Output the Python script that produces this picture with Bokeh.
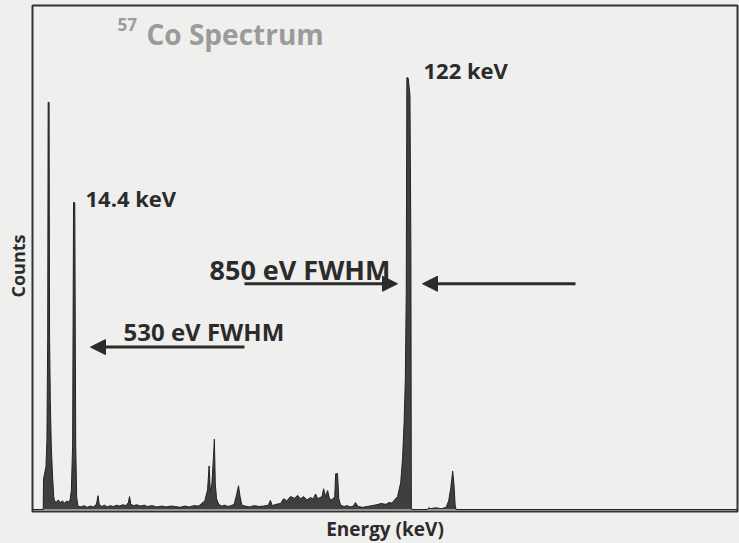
from bokeh.plotting import figure
from bokeh.models import Label, Arrow, NormalHead, Range1d, Title
from bokeh.embed import file_html
from bokeh.resources import INLINE

# ---- data (energy in keV, counts in arbitrary units, 122 keV peak = 1000) ----
energy_kev = [0.84, 4.3, 4.4, 4.8, 5.2, 5.5, 5.75, 5.9, 6.2, 6.35, 6.6, 6.9, 7.3, 7.7, 8.0,
              8.6, 9.2, 9.9, 10.5, 11.2, 11.8, 12.5, 13.0, 13.4, 13.8, 14.1, 14.5, 14.8, 15.1, 15.5,
              16.5, 17.5, 18.5, 19.5, 20.5, 21.5, 22.0, 22.4, 23.2, 24.1, 25.0, 26.0, 27.0, 28.0,
              29.0, 30.0, 31.0, 31.8, 32.2, 32.6, 33.5, 34.5, 35.7, 37.0, 38.0, 39.5, 41.0, 42.5,
              44.0, 45.5, 47.0, 48.5, 50.0, 51.5, 53.0, 54.5, 55.5, 56.5, 57.4, 57.9, 58.3, 58.8,
              59.3, 59.6, 59.9, 60.3, 61.0, 62.0, 63.0, 64.0, 65.0, 66.0, 66.8, 67.4, 67.9, 68.5,
              69.5, 71.0, 72.5, 74.0, 75.5, 77.0, 77.7, 78.3, 79.5, 81.0, 82.0, 83.0, 84.2, 85.5,
              86.5, 87.4, 88.5, 89.5, 90.7, 91.5, 92.3, 93.0, 94.4, 94.9, 95.5, 96.2, 96.8, 97.6,
              98.5, 98.8, 99.4, 99.8, 100.4, 101.5, 102.5, 103.5, 104.5, 105.2, 106.0, 107.5,
              109.0, 110.5, 112.0, 113.5, 115.0, 116.0, 117.0, 117.8, 118.8, 119.8, 120.4, 120.9,
              121.3, 121.6, 121.8, 122.2, 122.8, 123.1, 123.25, 126.0, 128.5, 128.8, 129.5, 131.0,
              133.0, 134.5, 135.3, 136.0, 136.6, 137.0, 137.4, 137.7, 228.6]
counts = [0, 0, 70, 85, 100, 160, 400, 943, 943, 400, 250, 150, 80, 30, 18,
          18, 22, 16, 20, 15, 19, 18, 22, 45, 150, 711, 711, 150, 30, 8,
          6, 9, 5, 8, 6, 12, 32, 12, 7, 10, 6, 9, 7, 10,
          8, 11, 9, 16, 30, 12, 9, 11, 8, 10, 7, 9, 6, 8,
          6, 8, 7, 5, 8, 6, 9, 8, 14, 20, 45, 101, 40, 60,
          120, 163, 60, 25, 12, 8, 10, 7, 9, 12, 35, 55, 30, 10,
          8, 6, 9, 7, 8, 10, 21, 9, 12, 14, 25, 20, 30, 26,
          33, 25, 30, 22, 28, 24, 36, 25, 30, 48, 30, 44, 25, 22,
          30, 83, 83, 25, 10, 7, 9, 6, 8, 16, 7, 5,
          7, 9, 11, 14, 12, 16, 15, 22, 30, 62, 117, 200,
          300, 500, 1000, 1000, 960, 600, 0, 0, 0, 4, 2, 4,
          2, 5, 20, 50, 89, 60, 10, 0, 0]

peak_labels = ["14.4 keV", "122 keV"]
fwhm_labels = ["850 eV FWHM", "530 eV FWHM"]

PXK = 3.095   # pixels per keV
PXC = 0.436   # pixels per count
X0 = 0.84
X1 = X0 + 705 / PXK
Y0 = -2 / PXC
Y1 = Y0 + 511 / PXC

p = figure(width=739, height=543, output_backend="svg", toolbar_location=None,
           x_axis_type=None, y_axis_type=None,
           x_range=Range1d(X0, X1), y_range=Range1d(Y0, Y1),
           min_border_left=32, min_border_right=2, min_border_top=5, min_border_bottom=27)
bg = "#efefed"
p.background_fill_color = bg
p.border_fill_color = bg
p.outline_line_color = "#333333"
p.outline_line_width = 2
p.grid.visible = False

p.varea(x=energy_kev, y1=[0] * len(counts), y2=counts, fill_color="#3f3f3f")
p.line(energy_kev, counts, line_color="#222222", line_width=1)

def kx(px):
    return X0 + (px - 32) / PXK

def cy(py):
    return Y0 + (516 - py) / PXC

dark = "#2b2b2b"
LABEL_SHIFT = 10  # Bokeh draws alphabetic-baseline labels ~10px lower

def lab(text, px, py, size, color=dark, **kw):
    p.add_layout(Label(x=kx(px), y=cy(py - LABEL_SHIFT), text=text, text_font="Open Sans",
                       text_font_style="bold", text_font_size=f"{size}px",
                       text_color=color, text_baseline="alphabetic", **kw))

# title
lab("57", 117, 34, 17, color="#9b9b9b")
lab("Co Spectrum", 146, 44, 28, color="#9b9b9b")
# peak labels
lab(peak_labels[1], 423, 80, 22)
lab(peak_labels[0], 85, 209, 22)
lab(fwhm_labels[0], 209, 282, 27)
lab(fwhm_labels[1], 123, 344, 24)

# axis labels as side titles
p.add_layout(Title(text="Counts", text_font="Open Sans", text_font_style="bold",
                   text_font_size="18px", text_color=dark, align="left",
                   standoff=5, offset=214), "left")
p.add_layout(Title(text="Energy (keV)", text_font="Open Sans", text_font_style="bold",
                   text_font_size="19px", text_color=dark, align="center",
                   standoff=4), "below")

def arrow(px_from, px_to, py):
    p.add_layout(Arrow(x_start=kx(px_from), x_end=kx(px_to), y_start=cy(py), y_end=cy(py),
                       line_width=3, line_color=dark,
                       end=NormalHead(size=15, fill_color=dark, line_color=dark)))

arrow(244, 397, 286)
arrow(575, 422, 286)
arrow(244, 90, 350)

html = file_html(p, INLINE)
html = html.replace("<head>", "<head><style>body{background:#efefed}</style>", 1)
open("out.html", "w").write(html)
